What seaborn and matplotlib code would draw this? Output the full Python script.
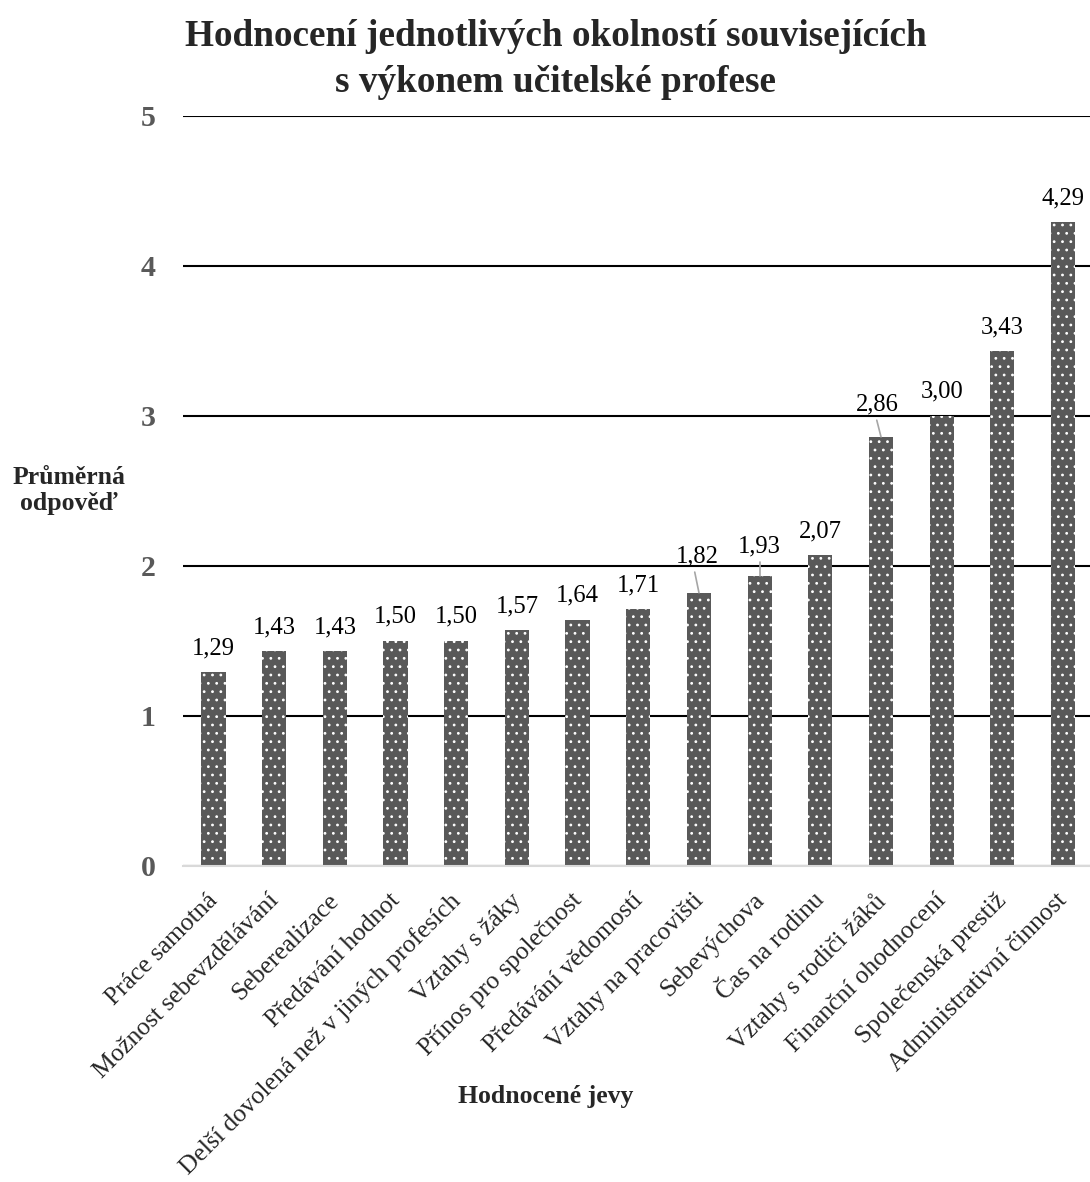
import matplotlib
matplotlib.use("Agg")
import matplotlib.pyplot as plt
import matplotlib.transforms as mtransforms
import seaborn as sns
import pandas as pd

# Survey results: mean answer per evaluated aspect of the teaching profession
categories = [
    "Práce samotná",
    "Možnost sebevzdělávání",
    "Seberealizace",
    "Předávání hodnot",
    "Delší dovolená než v jiných profesích",
    "Vztahy s žáky",
    "Přínos pro společnost",
    "Předávání vědomostí",
    "Vztahy na pracovišti",
    "Sebevýchova",
    "Čas na rodinu",
    "Vztahy s rodiči žáků",
    "Finanční ohodnocení",
    "Společenská prestiž",
    "Administrativní činnost",
]
values = [1.29, 1.43, 1.43, 1.50, 1.50, 1.57, 1.64, 1.71, 1.82, 1.93,
          2.07, 2.86, 3.00, 3.43, 4.29]
y_ticks = [0, 1, 2, 3, 4, 5]

df = pd.DataFrame({"jev": categories, "prumer": values})

sns.set_style("white")
plt.rcParams["font.family"] = ["Liberation Serif", "DejaVu Serif"]
plt.rcParams["hatch.linewidth"] = 0.8

BAR = "#595959"

fig = plt.figure(figsize=(10.9, 11.82), dpi=100)
ax = fig.add_axes([0.1681, 0.2676, 0.835, 0.6343])

sns.barplot(data=df, x="jev", y="prumer", ax=ax, color=BAR, saturation=1,
            width=0.4, edgecolor="white", linewidth=0, hatch="..", zorder=3)

ax.set_ylim(0, 5)
ax.set_xlim(-0.5, len(categories) - 0.5)
ax.set_yticks(y_ticks)
ax.yaxis.grid(True, color="black", linewidth=1.5, zorder=0)
ax.set_axisbelow(True)
for s in ["top", "right", "left"]:
    ax.spines[s].set_visible(False)
ax.spines["bottom"].set_color("#d9d9d9")
ax.spines["bottom"].set_linewidth(1.5)
ax.spines["bottom"].set_zorder(4)

ax.tick_params(axis="y", length=0, pad=20, labelsize=21.5, labelcolor=BAR)
for t in ax.get_yticklabels():
    t.set_fontweight("bold")
ax.tick_params(axis="x", length=0, pad=14, labelsize=18.4)
ax.set_xticks(range(len(categories)))
ax.set_xticklabels(categories, rotation=45, ha="right", rotation_mode="anchor")
# nudge the slanted category labels slightly left and down
shift = mtransforms.ScaledTranslation(-7 / 100, -4 / 100, fig.dpi_scale_trans)
for lab in ax.get_xticklabels():
    lab.set_transform(lab.get_transform() + shift)
ax.set_xlabel("")
ax.set_ylabel("")

# value labels; three of them are lifted above the gridline with a leader line
lifted = {8: (7.965, 2.025, 7.93, 1.958),
          9: (9.0, 2.091, 9.0, 2.025),
          11: (10.94, 3.038, 10.93, 2.971)}
for i, v in enumerate(values):
    txt = f"{v:.2f}".replace(".", ",")
    if i in lifted:
        lx, ly, sx, sy = lifted[i]
        ax.text(lx, ly, txt, ha="center", va="baseline", fontsize=17.7,
                color="black", zorder=5)
        ax.plot([sx, i], [sy, v], color="#a6a6a6", linewidth=1.2, zorder=5)
    else:
        ax.annotate(txt, (i, v), xytext=(0, 18), textcoords="offset pixels",
                    ha="center", va="baseline", fontsize=17.7, color="black",
                    zorder=5)

fig.text(0.51, 0.95, "Hodnocení jednotlivých okolností souvisejících\ns výkonem učitelské profese",
         ha="center", va="center", fontsize=26.8, fontweight="bold",
         linespacing=1.4)
fig.text(0.063, 0.585, "Průměrná\nodpověď", ha="center", va="center",
         fontsize=18.5, fontweight="bold", linespacing=1.2)
fig.text(0.501, 0.072, "Hodnocené jevy", ha="center", va="center",
         fontsize=18.5, fontweight="bold")

fig.savefig("out.png", dpi=100, facecolor="white")
